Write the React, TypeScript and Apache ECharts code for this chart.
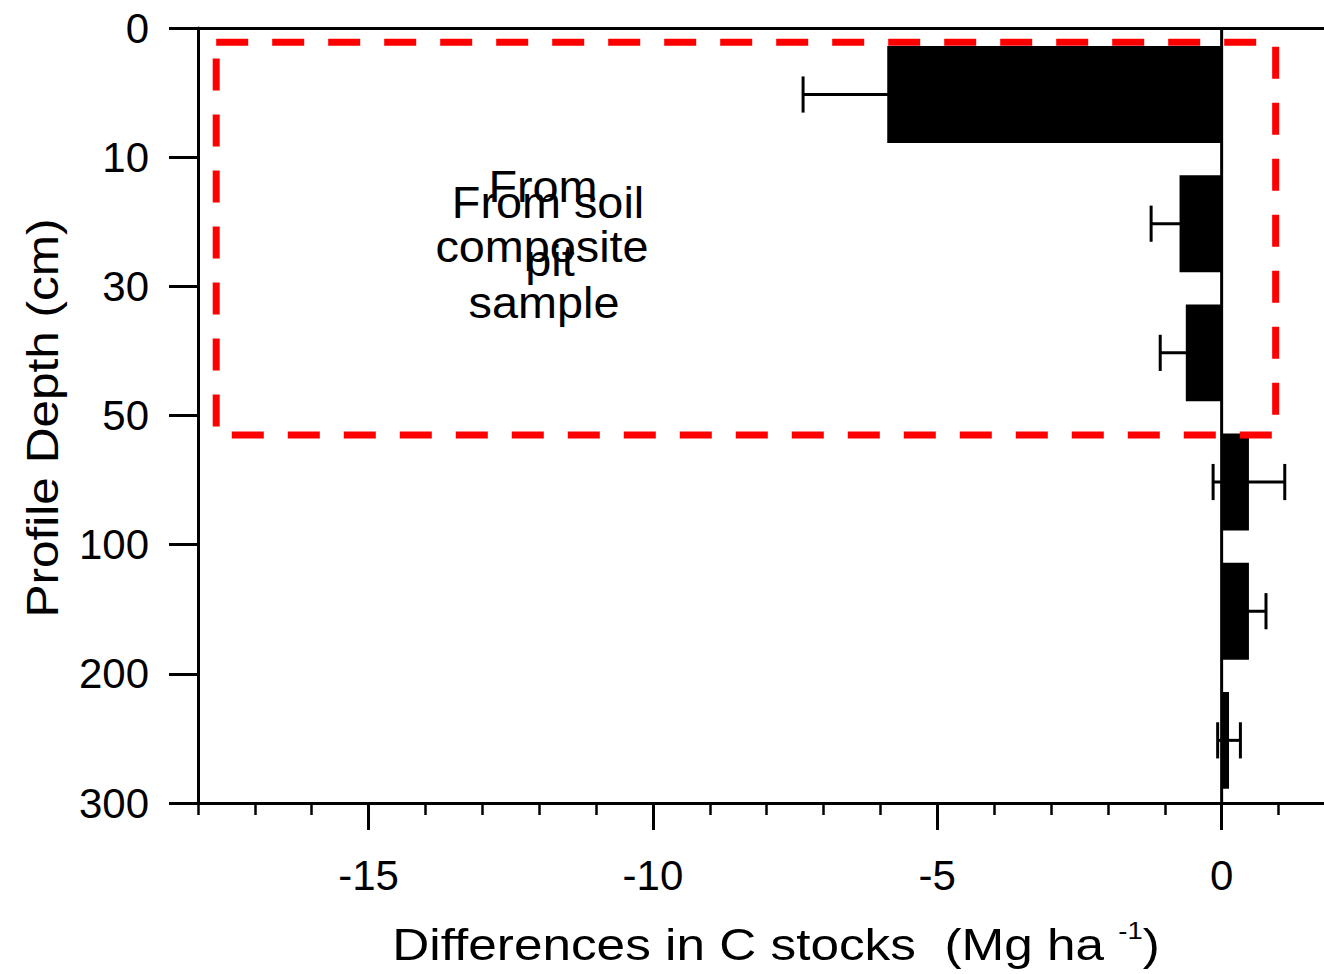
import React, { useEffect, useRef } from "react";
import * as echarts from "echarts";

// ---- data ----
const depthLabels = ["0", "10", "30", "50", "100", "200", "300"];
const layerNames = ["0-10", "10-30", "30-50", "50-100", "100-200", "200-300"];
const meanDiff = [-5.88, -0.74, -0.63, 0.48, 0.48, 0.13];
const stdErr = [1.48, 0.5, 0.45, 0.63, 0.3, 0.2];
const xMajorTicks = [-15, -10, -5, 0];
const xMinorTicks = [-18, -17, -16, -15, -14, -13, -12, -11, -10, -9, -8, -7, -6, -5, -4, -3, -2, -1, 0, 1];
const xMin = -18;
const xMax = 1.8;
// dashed box (data coordinates: x value, y layer index)
const boxCorners = [-17.68, 0.11, 0.95, 3.15];

const FONT = "'Liberation Sans', Arial, Helvetica, sans-serif";

export default function App() {
  const ref = useRef<HTMLDivElement>(null);
  useEffect(() => {
    if (!ref.current) return;
    const chart = echarts.init(ref.current, null, { renderer: "svg" });
    const annot = (text: string, x: number, y: number) => ({
      type: "text",
      x,
      y,
      scaleX: 1.04,
      style: { text, align: "center", verticalAlign: "middle", fontSize: 45, fontFamily: FONT, fill: "#000" },
    });
    const option: any = {
      animation: false,
      backgroundColor: "#fff",
      grid: { left: 198, right: 0, top: 28, bottom: 171 },
      xAxis: [
        {
          type: "value",
          position: "bottom",
          min: xMin,
          max: xMax,
          axisLine: { show: true, onZero: false, lineStyle: { color: "#000", width: 3 } },
          axisTick: { show: true, customValues: xMajorTicks, length: 27, lineStyle: { color: "#000", width: 3 } },
          axisLabel: {
            show: true,
            customValues: xMajorTicks,
            margin: 51,
            color: "#000",
            fontSize: 42,
            fontFamily: FONT,
            formatter: (v: number) => String(v),
          },
          splitLine: { show: false },
        },
        {
          type: "value",
          position: "top",
          min: xMin,
          max: xMax,
          axisLine: { show: true, onZero: false, lineStyle: { color: "#000", width: 3 } },
          axisTick: { show: false },
          axisLabel: { show: false },
          splitLine: { show: false },
        },
        {
          type: "value",
          position: "bottom",
          min: xMin,
          max: xMax,
          axisLine: { show: false, onZero: false },
          axisTick: { show: true, customValues: xMinorTicks, length: 12, lineStyle: { color: "#000", width: 2.5 } },
          axisLabel: { show: false },
          splitLine: { show: false },
        },
      ],
      yAxis: {
        type: "value",
        position: "left",
        inverse: true,
        min: 0,
        max: 6,
        interval: 1,
        axisLine: { show: true, onZero: false, lineStyle: { color: "#000", width: 3 } },
        axisTick: { show: true, length: 29, lineStyle: { color: "#000", width: 3 } },
        axisLabel: {
          show: true,
          margin: 49,
          color: "#000",
          fontSize: 42,
          fontFamily: FONT,
          formatter: (v: number) => depthLabels[Math.round(v)] ?? "",
        },
        splitLine: { show: false },
      },
      series: [
        {
          name: "Zero line",
          type: "custom",
          xAxisIndex: 0,
          data: [[0]],
          renderItem: (params: any, api: any) => {
            const a = api.coord([api.value(0), 0]);
            const b = api.coord([api.value(0), depthLabels.length - 1]);
            return {
              type: "line",
              shape: { x1: a[0], y1: a[1], x2: b[0], y2: b[1] },
              style: { stroke: "#000", lineWidth: 3 },
            };
          },
          z: 1,
        },
        {
          name: "Difference",
          type: "custom",
          xAxisIndex: 0,
          data: meanDiff.map((v, i) => [i, v, layerNames[i]]),
          encode: { x: 1, y: 0 },
          renderItem: (params: any, api: any) => {
            const i = api.value(0);
            const v = api.value(1);
            const p0 = api.coord([0, i + 0.515]);
            const p1 = api.coord([v, i + 0.515]);
            const band = api.size([0, 1])[1];
            const h = band * 0.75;
            return {
              type: "rect",
              shape: { x: Math.min(p0[0], p1[0]), y: p0[1] - h / 2, width: Math.abs(p1[0] - p0[0]), height: h },
              style: { fill: "#000" },
            };
          },
          z: 2,
        },
        {
          name: "Error",
          type: "custom",
          xAxisIndex: 0,
          data: meanDiff.map((v, i) => [i, v, stdErr[i]]),
          encode: { x: 1, y: 0 },
          renderItem: (params: any, api: any) => {
            const i = api.value(0);
            const m = api.value(1);
            const e = api.value(2);
            const lo = api.coord([m - e, i + 0.515]);
            const hi = api.coord([m + e, i + 0.515]);
            const band = api.size([0, 1])[1];
            const cap = band * 0.28;
            const st = { stroke: "#000", lineWidth: 3 };
            return {
              type: "group",
              children: [
                { type: "line", shape: { x1: lo[0], y1: lo[1], x2: hi[0], y2: hi[1] }, style: st },
                { type: "line", shape: { x1: lo[0], y1: lo[1] - cap / 2, x2: lo[0], y2: lo[1] + cap / 2 }, style: st },
                { type: "line", shape: { x1: hi[0], y1: hi[1] - cap / 2, x2: hi[0], y2: hi[1] + cap / 2 }, style: st },
              ],
            };
          },
          z: 3,
        },
        {
          name: "Box",
          type: "custom",
          xAxisIndex: 0,
          data: [boxCorners],
          renderItem: (params: any, api: any) => {
            const a = api.coord([api.value(0), api.value(1)]);
            const b = api.coord([api.value(2), api.value(3)]);
            return {
              type: "rect",
              shape: { x: a[0], y: a[1], width: b[0] - a[0], height: b[1] - a[1] },
              style: { fill: "none", stroke: "#ff0000", lineWidth: 7, lineDash: [32, 24] },
            };
          },
          z: 4,
        },
      ],
      graphic: [
        {
          type: "text",
          x: 776,
          y: 944,
          scaleX: 1.14,
          style: {
            text: "{m|Differences in C stocks  (Mg ha }{s|-1}{m|)}",
            align: "center",
            verticalAlign: "middle",
            rich: {
              m: { fontSize: 45, fontFamily: FONT, fill: "#000", lineHeight: 50 },
              s: { fontSize: 24, fontFamily: FONT, fill: "#000", lineHeight: 34, verticalAlign: "top" },
            },
          },
        },
        {
          type: "text",
          x: 42,
          y: 418,
          rotation: Math.PI / 2,
          scaleX: 1.1,
          style: {
            text: "Profile Depth (cm)",
            align: "center",
            verticalAlign: "middle",
            fontSize: 45,
            fontFamily: FONT,
            fill: "#000",
          },
        },
        annot("From", 543, 186),
        annot("pit", 550, 260),
        annot("From soil", 548, 202),
        annot("composite", 542, 246),
        annot("sample", 544, 302),
      ],
    };
    chart.setOption(option);
    return () => chart.dispose();
  }, []);
  return <div ref={ref} style={{ position: "absolute", left: 0, top: 0, width: 1324, height: 974 }} />;
}
